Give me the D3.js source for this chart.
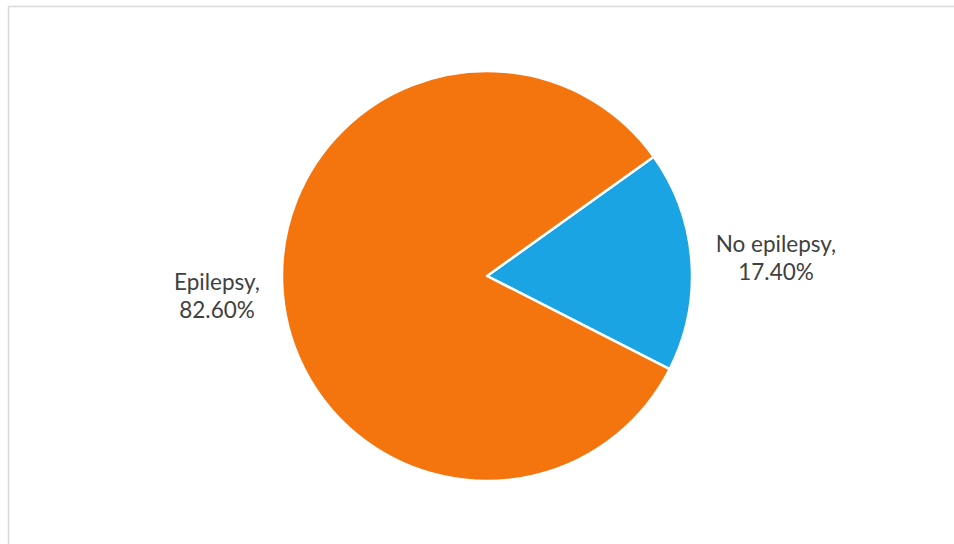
<!DOCTYPE html>
<html><head><meta charset="utf-8">
<script src="https://cdn.jsdelivr.net/npm/d3@7"></script>
<style>html,body{margin:0;padding:0;background:#fff;}svg{display:block;}</style>
</head><body>
<svg id="c" width="954" height="544"></svg>
<script>
const categories = ["No epilepsy", "Epilepsy"];
const values = [17.4, 82.6];
const labels = ["17.40%", "82.60%"];
const colors = ["#1AA4E4", "#F4740E"];

const svg = d3.select("#c");
svg.append("rect").attr("x", 8.5).attr("y", 6.5).attr("width", 1000).attr("height", 1000)
  .attr("fill", "#fff").attr("stroke", "#d9d9d9").attr("stroke-width", 1.5);

const cx = 487, cy = 276, r = 205;
const start = 54.4 * Math.PI / 180;
const pie = d3.pie().sort(null).value(d => d).startAngle(start).endAngle(start + 2 * Math.PI);
const arcs = pie(values);
const arc = d3.arc().innerRadius(0).outerRadius(r);
const g = svg.append("g").attr("transform", `translate(${cx},${cy})`);
g.selectAll("path").data(arcs).join("path")
  .attr("d", arc).attr("fill", (d, i) => colors[i])
  .attr("stroke", "#fff").attr("stroke-width", 2.5).attr("stroke-linejoin", "round");

const labelPos = [[776, 252], [217, 290]];
arcs.forEach((a, i) => {
  const t = svg.append("text").attr("x", labelPos[i][0]).attr("y", labelPos[i][1])
    .attr("text-anchor", "middle").attr("fill", "#404040")
    .style("font-family", "Lato, 'Open Sans', sans-serif").style("font-size", "22.5px");
  t.append("tspan").attr("x", labelPos[i][0]).attr("dy", 0).text(categories[i] + ",");
  t.append("tspan").attr("x", labelPos[i][0]).attr("dy", 28).text(labels[i]);
});
</script>
</body></html>
